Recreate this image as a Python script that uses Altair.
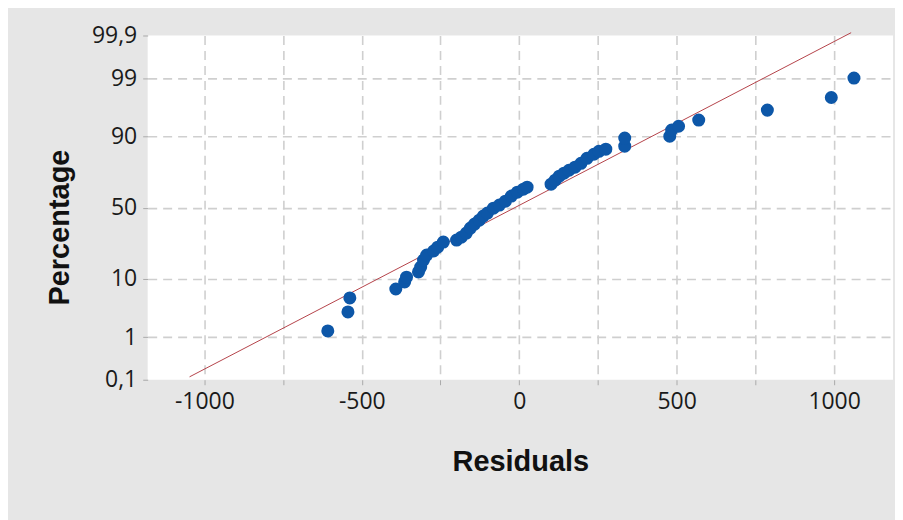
import statistics
import altair as alt
import pandas as pd

nd = statistics.NormalDist()

# Residuals and their plotted percentages
residuals = [-608, -544, -538, -392, -364, -358, -320, -313, -304, -294,
             -272, -259, -241, -199, -184, -168, -155, -142, -127, -114,
             -101, -82, -63, -44, -25, -6, 13, 25, 101, 114,
             127, 142, 158, 177, 196, 215, 237, 253, 275, 335,
             335, 478, 484, 506, 570, 788, 991, 1063]
percents = [1.34, 3.05, 5.24, 7.2, 9.1, 10.6, 12.4, 14.3, 17.3, 19.7,
            21.8, 23.9, 26.8, 28.0, 29.8, 32.4, 35.7, 38.4, 41.1, 44.0,
            46.1, 49.6, 51.8, 54.6, 58.2, 60.9, 63.0, 64.3, 66.3, 68.9,
            71.4, 73.2, 74.9, 76.6, 78.7, 81.2, 83.1, 84.4, 85.3, 86.5,
            89.4, 90.0, 91.8, 92.8, 94.2, 96.0, 97.6, 99.0]

# Fitted normal reference line
fit_mean = -14
fit_sigma = 340
line_residuals = [-1047, 1054]

y_tick_pct = [0.1, 1, 10, 50, 90, 99, 99.9]
y_tick_labels = ["0,1", "1", "10", "50", "90", "99", "99,9"]
x_ticks = [-1000, -750, -500, -250, 0, 250, 500, 750, 1000]
x_domain = [-1180, 1187]

y_tick_z = [nd.inv_cdf(p / 100) for p in y_tick_pct]
y_domain = [y_tick_z[0], y_tick_z[-1]]

pts = pd.DataFrame({
    "residual": residuals,
    "z": [nd.inv_cdf(p / 100) for p in percents],
})
line = pd.DataFrame({
    "residual": line_residuals,
    "z": [(r - fit_mean) / fit_sigma for r in line_residuals],
})

label_expr = ""
for zv, lab in zip(y_tick_z, y_tick_labels):
    label_expr += f"abs(datum.value - ({zv:.5f})) < 0.001 ? '{lab}' : "
label_expr += "''"

common_axis = dict(
    titleFont="Liberation Sans",
    titleFontWeight="bold",
    titleFontSize=29,
    titleColor="#111111",
    titleBaseline="middle",
    labelFont="Open Sans",
    labelFontSize=23,
    labelColor="#1a1a1a",
    labelPadding=6,
    labelFlush=False,
    tickSize=5,
    tickColor="#aaaaaa",
    grid=True,
    gridColor="#cfcfcf",
    gridDash=[9, 6],
    gridWidth=1.6,
    domain=False,
)

x_enc = alt.X(
    "residual:Q",
    scale=alt.Scale(domain=x_domain, nice=False, zero=False),
    axis=alt.Axis(
        values=x_ticks,
        labelExpr="datum.value % 500 == 0 ? toString(datum.value) : ''",
        title="Residuals",
        titleY=82,
        **common_axis,
    ),
)
y_enc = alt.Y(
    "z:Q",
    scale=alt.Scale(domain=y_domain, nice=False, zero=False),
    axis=alt.Axis(
        values=y_tick_z,
        labelExpr=label_expr,
        title="Percentage",
        titleX=-88,
        titleY=192,
        gridOpacity={"condition": {"test": "abs(datum.value) > 3", "value": 0}, "value": 1},
        **common_axis,
    ),
)

fit = alt.Chart(line).mark_line(color="#b5434a", strokeWidth=1, clip=False).encode(
    x=x_enc, y=y_enc
)
dots = alt.Chart(pts).mark_circle(color="#0d57a8", opacity=1, size=170).encode(
    x="residual:Q", y="z:Q"
)

chart = (
    alt.layer(fit, dots)
    .properties(
        width=747,
        height=345,
        autosize=alt.AutoSizeParams(type="none"),
        padding={"left": 140, "top": 27, "right": 2, "bottom": 140},
        background="#e6e6e6",
    )
    .configure_view(fill="white", stroke=None)
)

chart.save("out.html", embed_options={"renderer": "svg", "actions": False})
